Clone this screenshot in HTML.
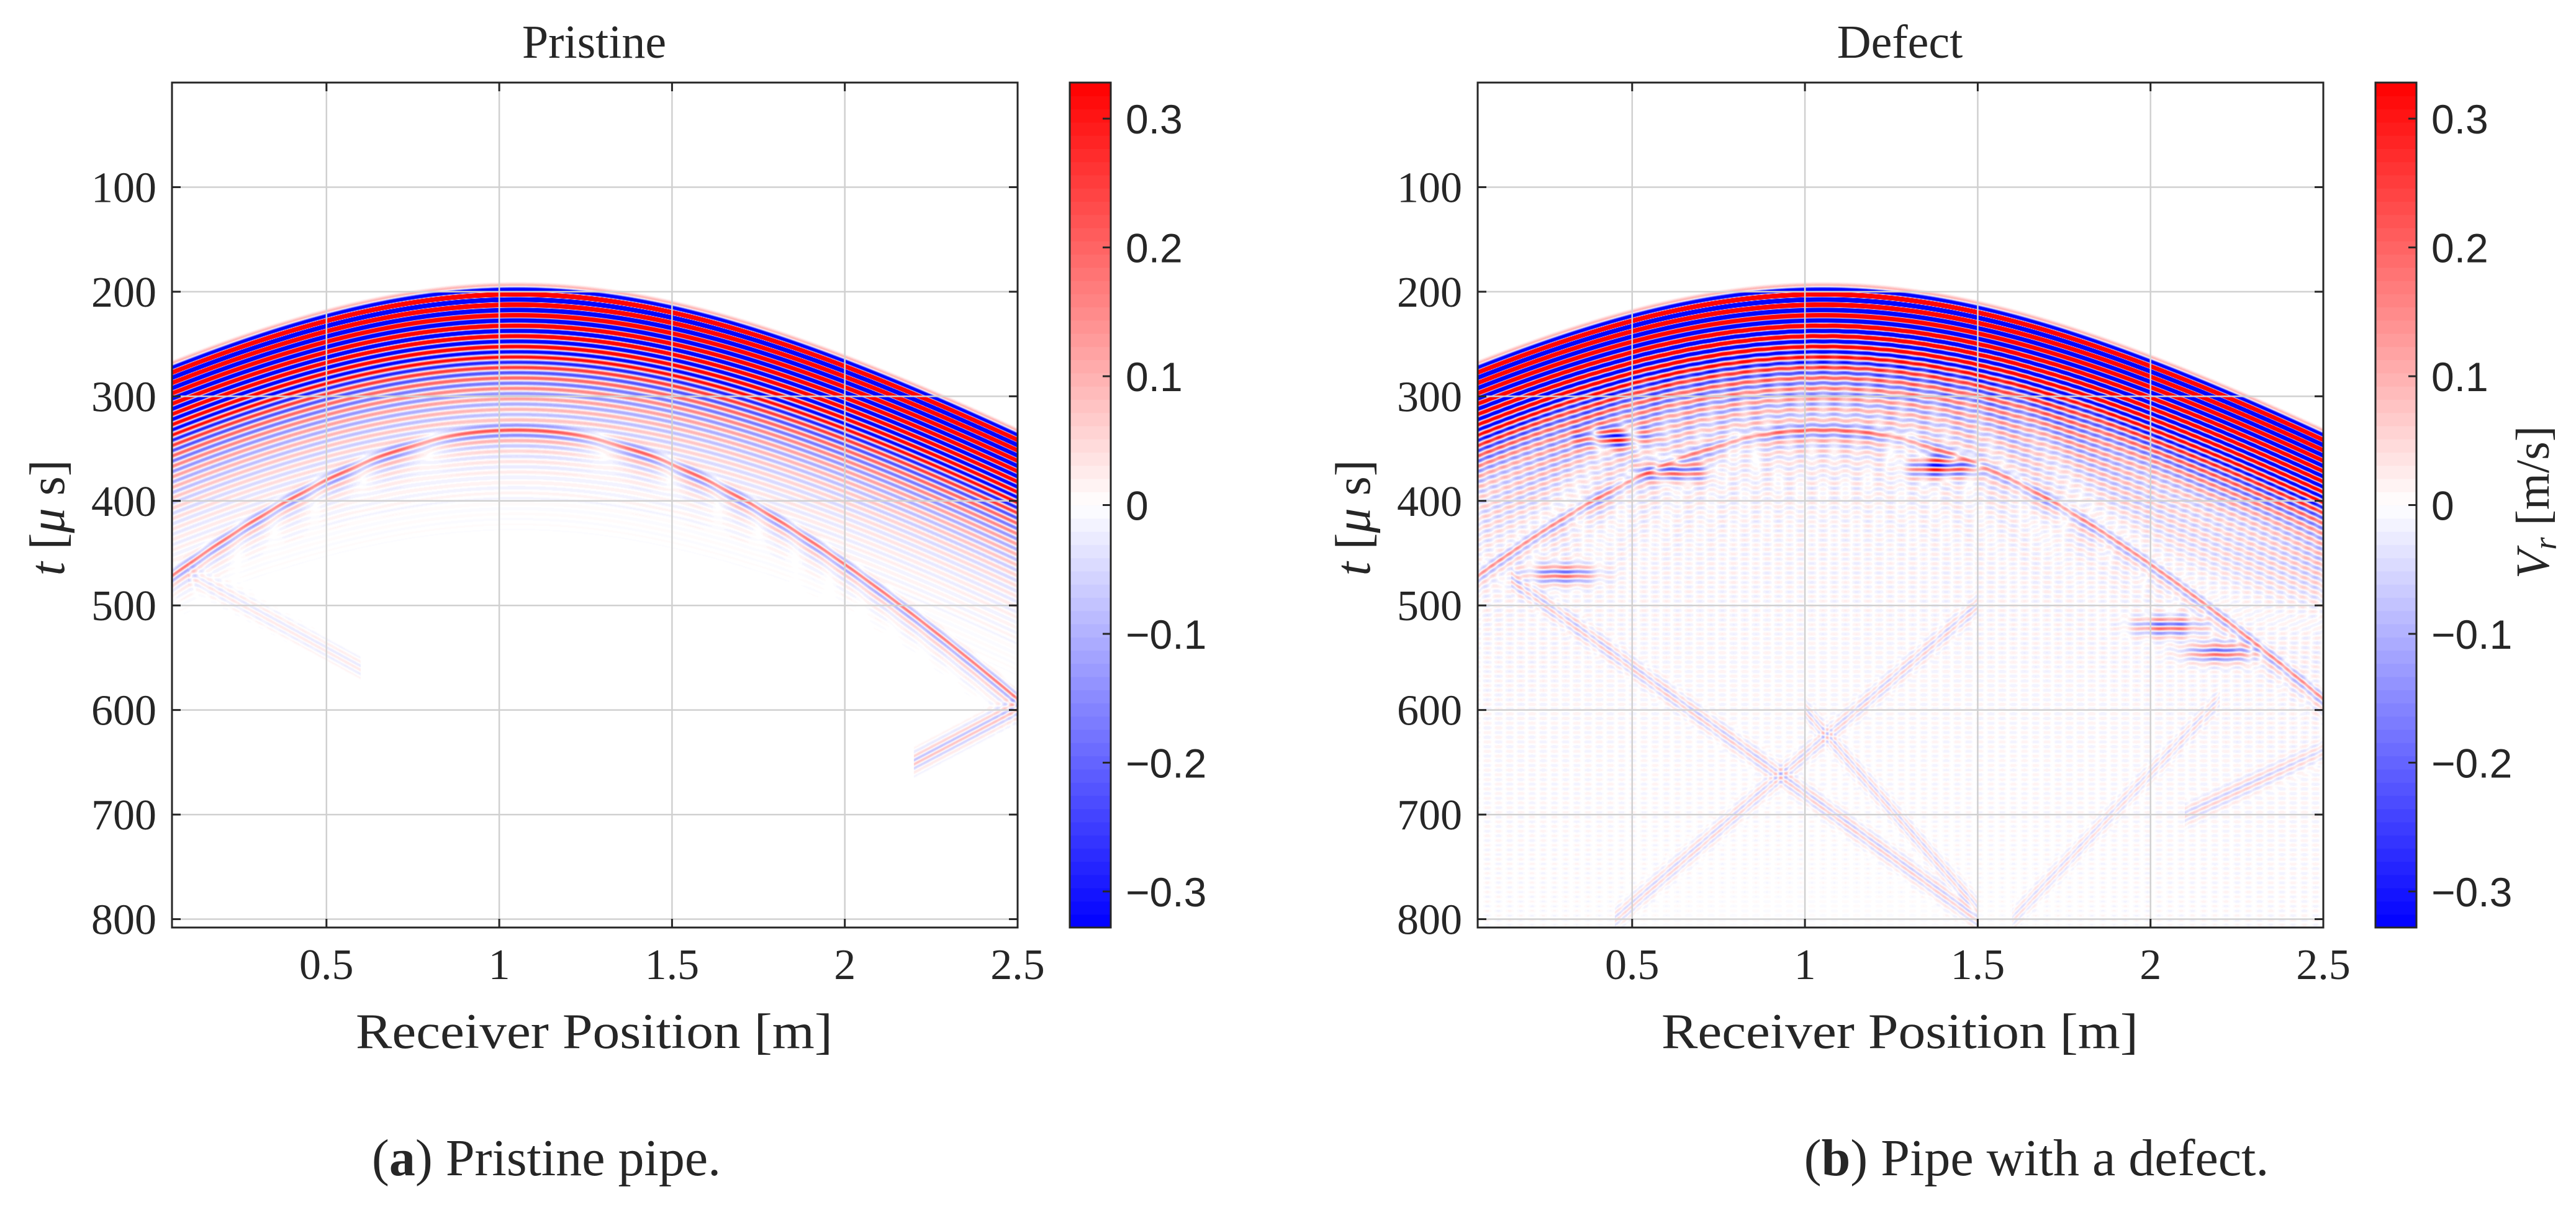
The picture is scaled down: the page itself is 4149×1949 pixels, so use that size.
<!DOCTYPE html>
<html><head><meta charset="utf-8">
<style>
html,body{margin:0;padding:0;background:#fff;}
#root{position:relative;width:4149px;height:1949px;overflow:hidden;background:#fff;}
canvas{position:absolute;}
svg{position:absolute;left:0;top:0;}
.serif{font-family:"Liberation Serif",serif;fill:#262626;}
.sans{font-family:"Liberation Sans",sans-serif;fill:#262626;}
</style></head>
<body>
<div id="root">
<canvas id="c0" width="1362" height="1361" style="left:277px;top:133px"></canvas>
<canvas id="c1" width="1363" height="1361" style="left:2380px;top:133px"></canvas>
<svg id="ov" width="4149" height="1949"></svg>
</div>
<script>
// ---- axis data ----
const xTicks = [0.5, 1, 1.5, 2, 2.5];
const xTickLabels = ["0.5", "1", "1.5", "2", "2.5"];
const yTicks = [100, 200, 300, 400, 500, 600, 700, 800];
const yTickLabels = ["100", "200", "300", "400", "500", "600", "700", "800"];
const cTicks = [0.3, 0.2, 0.1, 0, -0.1, -0.2, -0.3];
const cTickLabels = ["0.3", "0.2", "0.1", "0", "\u22120.1", "\u22120.2", "\u22120.3"];
const xMin = 0.053, xMax = 2.5, tMin = 0, tMax = 808, cLim = 0.328;
// ---- wave arrivals (hyperbolic arcs) ----
const arcApexX = [1.05, 1.05];
const arcApexT = [200, 330];
const arcSlope = [189, 335];
const arcAmp = [1.6, 0.22];
const arcDecay = [40, 9];
const arcPeriod = [10, 10];
// faint diagonal arrivals: [x0,t0,x1,t1]
const linesPristine = [[2.5, 598, 2.2, 650], [0.1, 470, 0.6, 560]];
const linesPristineAmp = [0.08, 0.03];
const linesDefect = [[0.15, 475, 1.5, 800], [1.5, 500, 0.45, 800], [1.0, 600, 1.5, 790], [2.2, 590, 1.6, 800], [2.5, 640, 2.1, 700]];
const linesDefectAmp = [0.06, 0.05, 0.05, 0.04, 0.05];
// defect scatter spots
const spotX = [0.45, 0.62, 1.4, 0.3, 2.05, 2.2];
const spotT = [340, 372, 368, 470, 520, 545];
const spotAmp = [0.25, 0.22, 0.3, 0.2, 0.2, 0.2];
const defectArcAmp = 0.18;

const L0 = 277, T0 = 133, W = 1362, H = 1361, OFF = 2103;
const CBL = 1723, CBW = 66;
function xs(x) { return (x - xMin) / (xMax - xMin) * W; }
function ys(t) { return (t - tMin) / (tMax - tMin) * H; }
function cy(v) { return T0 + (cLim - v) / (2 * cLim) * H; }
function cmap(v, plain) {
  if (!plain && Math.abs(v) < cLim / 64) return [255, 255, 255];
  let f = (v + cLim) / (2 * cLim); f = Math.max(0, Math.min(0.9999, f));
  const i = Math.floor(f * 64), g = (i + 0.5) / 64;
  if (g < 0.5) { const w = g / 0.5; return [Math.round(255 * w), Math.round(255 * w), 255]; }
  const w = (1 - g) / 0.5; return [255, Math.round(255 * w), Math.round(255 * w)];
}
function render(cv, defect) {
  const ctx = cv.getContext('2d');
  const w = cv.width, h = cv.height;
  const img = ctx.createImageData(w, h);
  const lines = defect ? linesDefect : linesPristine;
  const lamp = defect ? linesDefectAmp : linesPristineAmp;
  for (let px = 0; px < w; px++) {
    const x = xMin + (px + 0.5) / W * (xMax - xMin);
    const ta = [], nA = arcApexX.length;
    for (let k = 0; k < nA; k++) { const d = (x - arcApexX[k]) * arcSlope[k]; ta.push(Math.sqrt(arcApexT[k] * arcApexT[k] + d * d)); }
    const lt = lines.map(l => { const f = (x - l[0]) / (l[2] - l[0]); return (f >= 0 && f <= 1) ? l[1] + f * (l[3] - l[1]) : null; });
    for (let py = 0; py < h; py++) {
      const t = tMin + (py + 0.5) / H * (tMax - tMin);
      let v = 0;
      for (let k = 0; k < nA; k++) {
        const dt = t - ta[k];
        if (dt < -10) continue;
        const env = dt < 0 ? 0.4 * Math.exp(-(dt / 5) * (dt / 5)) : Math.exp(-dt / arcDecay[k]);
        let a = arcAmp[k];
        if (defect && k === 1) a = defectArcAmp;
        v += a * env * Math.sin(2 * Math.PI * dt / arcPeriod[k]);
      }
      for (let j = 0; j < lines.length; j++) {
        if (lt[j] === null) continue;
        const dt = t - lt[j];
        if (Math.abs(dt) > 20) continue;
        v += lamp[j] * Math.exp(-(dt / 10) * (dt / 10)) * Math.sin(2 * Math.PI * dt / 8);
      }
      if (defect) {
        for (let s = 0; s < spotX.length; s++) {
          const dx = (x - spotX[s]) / 0.09, dt = (t - spotT[s]) / 10;
          const r = dx * dx + dt * dt;
          if (r < 9) v += spotAmp[s] * Math.exp(-r) * Math.sin(2 * Math.PI * (t - spotT[s]) / 9);
        }
        const main = ta[0];
        if (t > main + 30) v += 0.05 * Math.sin(x * 97) * Math.sin(t * 0.7) * Math.exp(-(t - main - 30) / 350);
      }
      const c = cmap(v), o = (py * w + px) * 4;
      img.data[o] = c[0]; img.data[o + 1] = c[1]; img.data[o + 2] = c[2]; img.data[o + 3] = 255;
    }
  }
  ctx.putImageData(img, 0, 0);
}
render(document.getElementById('c0'), false);
render(document.getElementById('c1'), true);

const NS = 'http://www.w3.org/2000/svg';
const ov = document.getElementById('ov');
function el(tag, attrs, parent) {
  const e = document.createElementNS(NS, tag);
  for (const k in attrs) e.setAttribute(k, attrs[k]);
  (parent || ov).appendChild(e); return e;
}
function txt(s, attrs, parent) { const e = el('text', attrs, parent); e.textContent = s; return e; }

const titles = ["Pristine", "Defect"];
const captions = [["a", " Pristine pipe."], ["b", " Pipe with a defect."]];
const capX = [880, 3280];
for (let p = 0; p < 2; p++) {
  const ox = p * OFF;
  const g = el('g', {});
  
  
  xTicks.forEach(v => {
    const X = L0 + ox + xs(v);
    const ln = el('line', { x1: X, y1: T0, x2: X, y2: T0 + H, stroke: '#d0d0d0', 'stroke-width': 2.5 }, g);
     
  });
  yTicks.forEach(v => {
    const Y = T0 + ys(v);
    const ln = el('line', { x1: L0 + ox, y1: Y, x2: L0 + ox + W, y2: Y, stroke: '#d0d0d0', 'stroke-width': 2.5 }, g);
     
  });
  const bx = el('rect', { x: L0 + ox, y: T0, width: W, height: H, fill: 'none', stroke: '#262626', 'stroke-width': 3 }, g);
   
  xTicks.forEach((v, i) => {
    const X = L0 + ox + xs(v);
    el('line', { x1: X, y1: T0 + H, x2: X, y2: T0 + H - 14, stroke: '#262626', 'stroke-width': 3 }, g);
    el('line', { x1: X, y1: T0, x2: X, y2: T0 + 14, stroke: '#262626', 'stroke-width': 3 }, g);
    const t = txt(xTickLabels[i], { x: X, y: 1577, 'text-anchor': 'middle', 'font-size': 70, class: 'serif' }, g);
     
  });
  yTicks.forEach((v, i) => {
    const Y = T0 + ys(v);
    el('line', { x1: L0 + ox, y1: Y, x2: L0 + ox + 14, y2: Y, stroke: '#262626', 'stroke-width': 3 }, g);
    el('line', { x1: L0 + ox + W, y1: Y, x2: L0 + ox + W - 14, y2: Y, stroke: '#262626', 'stroke-width': 3 }, g);
    const t = txt(yTickLabels[i], { x: 252 + ox, y: Y + 24, 'text-anchor': 'end', 'font-size': 70, class: 'serif' }, g);
     
  });
  const tt = txt(titles[p], { x: 957 + ox, y: 93, 'text-anchor': 'middle', 'font-size': 76, class: 'serif' }, g);
   
  const xl = txt('Receiver Position [m]', { x: 957 + ox, y: 1688, 'text-anchor': 'middle', 'font-size': 80, class: 'serif', textLength: 768, lengthAdjust: 'spacingAndGlyphs' }, g);
   
  const yl = el('text', { x: 0, y: 0, 'text-anchor': 'middle', 'font-size': 80, class: 'serif', transform: `translate(${103 + ox},834) rotate(-90)` }, g);
   
  yl.innerHTML = '<tspan font-style="italic">t</tspan> [<tspan font-style="italic">μ</tspan> s]';
  const cb = el('g', {}, g);
   
  for (let i = 0; i < 64; i++) {
    const v = -cLim + (i + 0.5) / 64 * 2 * cLim, c = cmap(v, true);
    const y1 = cy(-cLim + (i + 1) / 64 * 2 * cLim), y2 = cy(-cLim + i / 64 * 2 * cLim);
    el('rect', { x: CBL + ox, y: y1, width: CBW, height: y2 - y1 + 0.6, fill: `rgb(${c[0]},${c[1]},${c[2]})` }, cb);
  }
  el('rect', { x: CBL + ox, y: T0, width: CBW, height: H, fill: 'none', stroke: '#262626', 'stroke-width': 3 }, cb);
  cTicks.forEach((v, i) => {
    const Y = cy(v);
    el('line', { x1: CBL + ox + CBW, y1: Y, x2: CBL + ox + CBW - 13, y2: Y, stroke: '#262626', 'stroke-width': 3 }, cb);
    const t = txt(cTickLabels[i], { x: 1813 + ox, y: Y + 24, 'font-size': 66, class: 'sans' }, cb);
     
  });
  const cap = el('text', { x: capX[p], y: 1893, 'text-anchor': 'middle', 'font-size': 84, class: 'serif' }, g);
   
  cap.innerHTML = `(<tspan font-weight="bold">${captions[p][0]}</tspan>)${captions[p][1]}`;
}
const cl = el('text', { x: 0, y: 0, 'text-anchor': 'middle', 'font-size': 76, class: 'serif', transform: 'translate(4105,809) rotate(-90)' });
 
cl.innerHTML = '<tspan font-style="italic">V</tspan><tspan font-style="italic" font-size="52" dy="12">r</tspan><tspan dy="-12"> [m/s]</tspan>';
</script>
</body></html>
